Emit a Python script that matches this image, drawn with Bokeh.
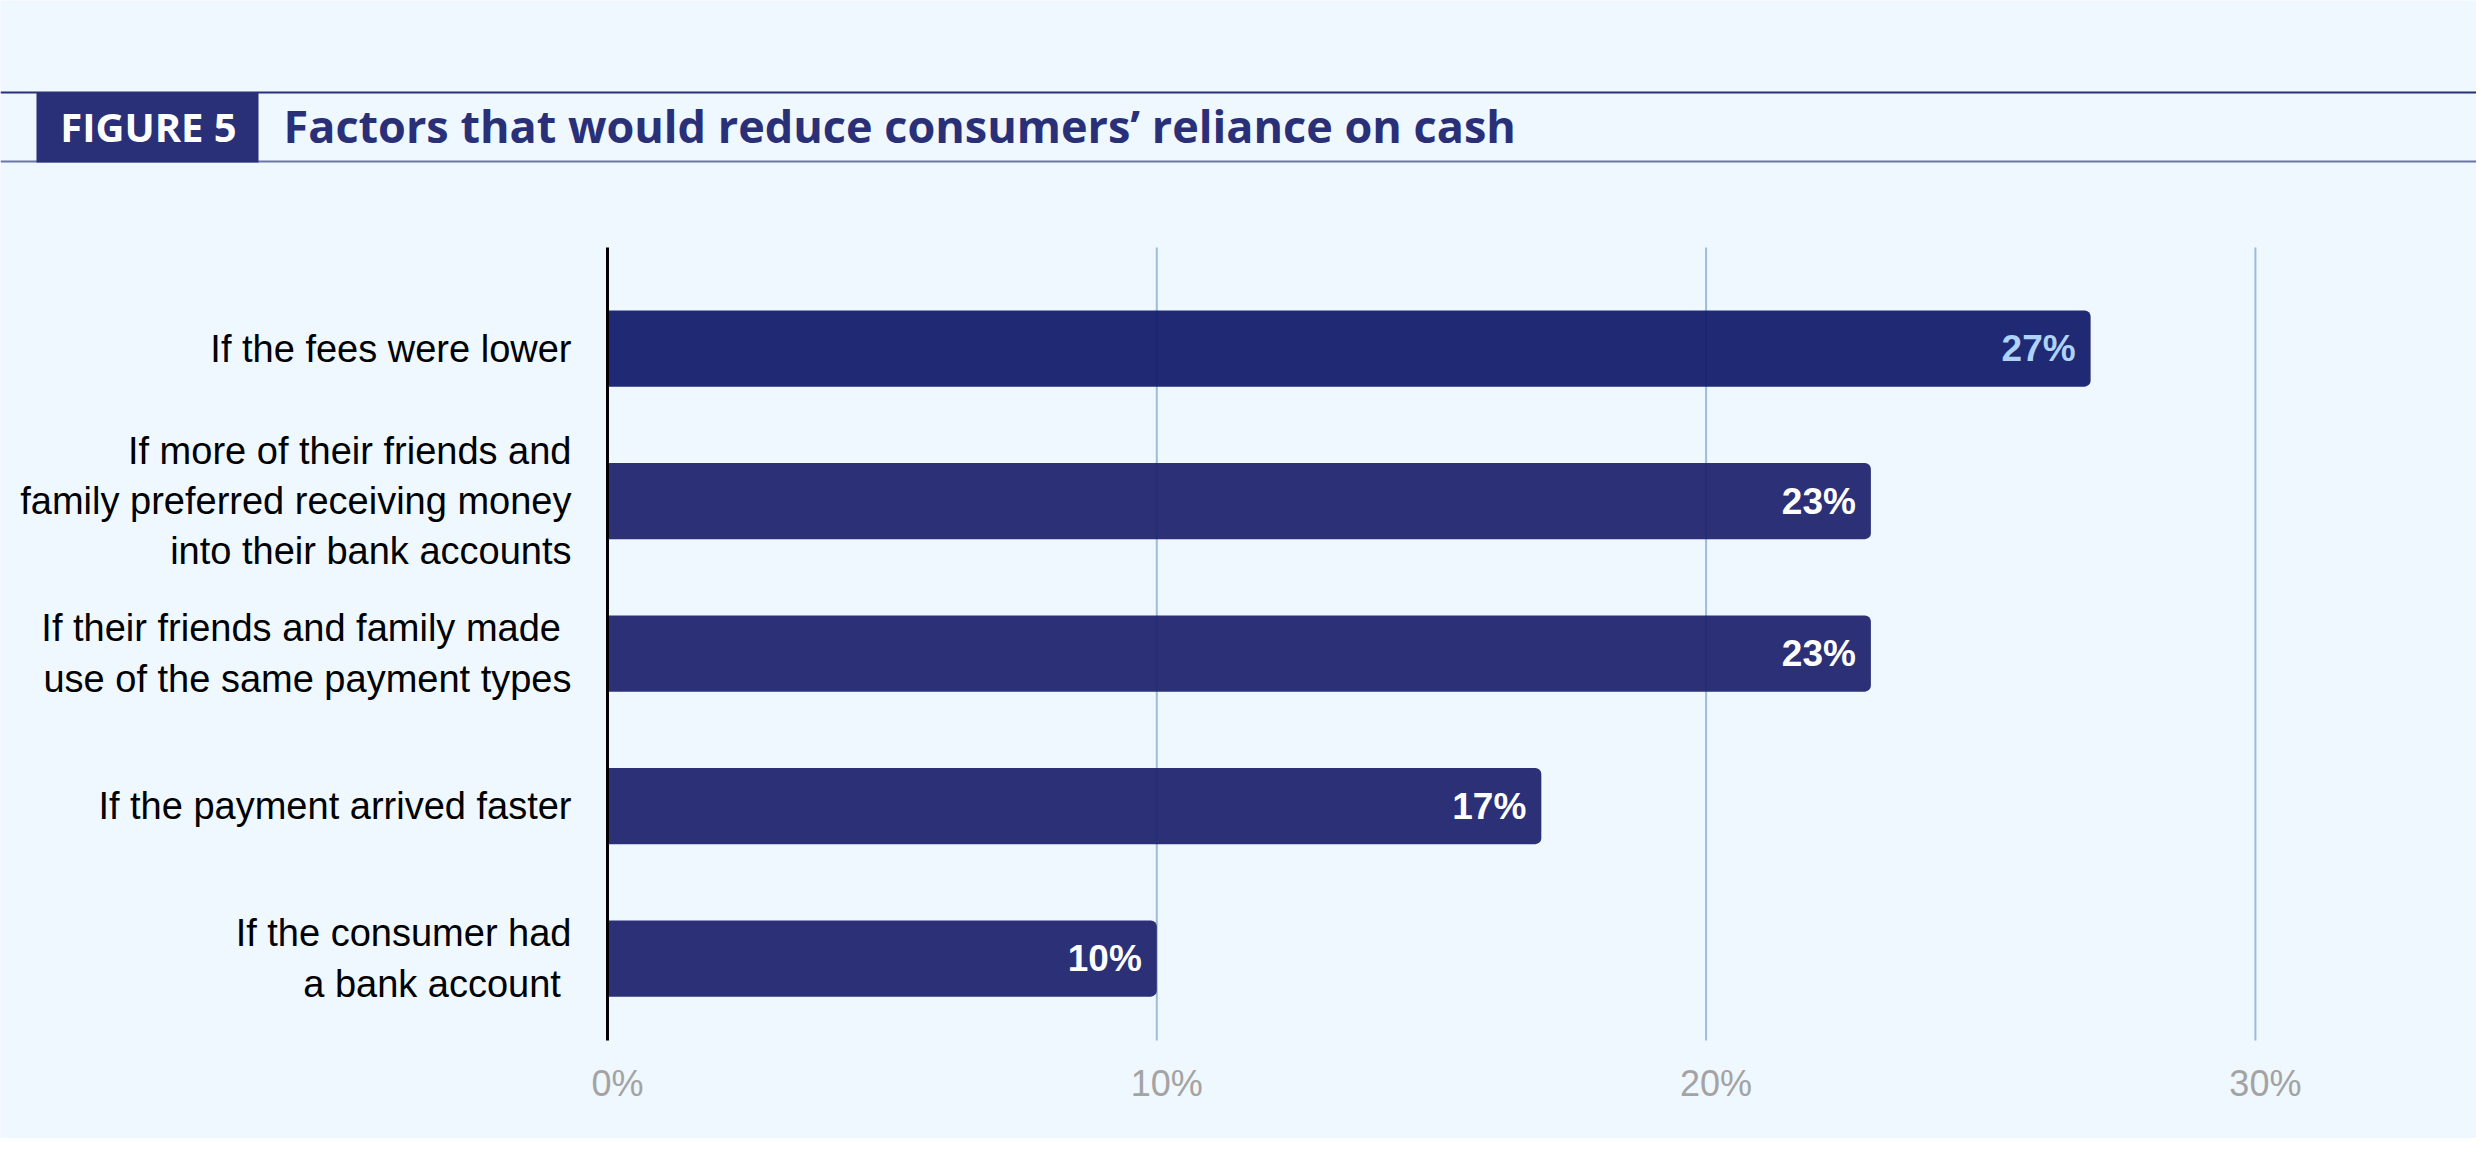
from bokeh.core.properties import value
from bokeh.embed import file_html
from bokeh.models import ColumnDataSource, Range1d
from bokeh.plotting import figure
from bokeh.resources import INLINE

BG = "#eff7ff"
NAVY = "#2a3077"
W, H = 2476, 1138

# data, top to bottom as in the chart
factors = [
    "If the fees were lower",
    "If more of their friends and\nfamily preferred receiving money\ninto their bank accounts",
    "If their friends and family made \nuse of the same payment types",
    "If the payment arrived faster",
    "If the consumer had\na bank account ",
]
shares = [27, 23, 23, 17, 10]
bar_colors = ["#141d6b", "#202570", "#202570", "#202570", "#202570"]
label_colors = ["#aed2f8", "white", "white", "white", "white"]
x_ticks = [0, 10, 20, 30]
x_tick_labels = ["0%", "10%", "20%", "30%"]

title_tag = "FIGURE 5"
title_text = "Factors that would reduce consumers\u2019 reliance on cash"

# page pixel -> data helpers (0% sits at x=607px, 54.93px per point,
# one category every 152.5px with the last one centred at y=958px)
def dx(px):
    return (px - 607) / 54.93


def dy(py):
    return (958 - py) / 152.5


y_lo, y_hi = -0.538, 4.662  # extent of the plotting area

ypos = list(range(len(factors) - 1, -1, -1))
src = ColumnDataSource(dict(y=ypos, share=shares, bar_color=bar_colors,
                            label_color=label_colors, factor=factors,
                            label=[f"{s}%" for s in shares]))

p = figure(width=W, height=H, x_range=Range1d(dx(0), dx(W)), y_range=Range1d(dy(H), dy(0)),
           x_axis_location=None, y_axis_location=None, min_border=0,
           output_backend="svg", toolbar_location=None)
p.background_fill_color = BG
p.border_fill_color = BG
p.outline_line_color = None
p.grid.visible = False

# header band
p.segment(x0=[dx(0)], y0=[dy(92)], x1=[dx(W)], y1=[dy(92)], line_color=NAVY, line_width=2)
p.segment(x0=[dx(0)], y0=[dy(161)], x1=[dx(W)], y1=[dy(161)], line_color="#6d74a8", line_width=2)
p.quad(left=[dx(36)], right=[dx(258)], top=[dy(92)], bottom=[dy(162)], fill_color=NAVY,
       line_color=None)
p.text(x=[dx(148)], y=[dy(126)], text=[title_tag], text_color="white", text_align="center",
       text_baseline="middle", text_font=value("Open Sans"), text_font_style="bold",
       text_font_size="40px")
p.text(x=[dx(283)], y=[dy(125)], text=[title_text], text_color=NAVY, text_align="left",
       text_baseline="middle", text_font=value("Open Sans"), text_font_style="bold",
       text_font_size="45px")

# grid lines and value axis line
p.segment(x0=x_ticks[1:], y0=y_lo, x1=x_ticks[1:], y1=y_hi, line_color="#9fbbd8", line_width=2)
p.text(x=x_ticks, y=y_lo, text=x_tick_labels, x_offset=10, y_offset=43, text_align="center",
       text_baseline="middle", text_color="#a3a3a3", text_font=value("Liberation Sans"),
       text_font_size="36px")

# bars
p.hbar(y="y", right="share", left=0, height=0.5, source=src, fill_color="bar_color",
       fill_alpha=0.95, line_color=None, border_radius=(0, 6, 6, 0))
p.text(x="share", y="y", text="label", source=src, x_offset=-15, text_align="right",
       text_baseline="middle", text_color="label_color", text_font=value("Liberation Sans"),
       text_font_style="bold", text_font_size="37px")
p.segment(x0=[0], y0=[y_lo], x1=[0], y1=[y_hi], line_color="black", line_width=3)

# category labels
p.text(x=0, y="y", text="factor", source=src, x_offset=-36, text_align="right",
       text_baseline="middle", text_color="black", text_font=value("Liberation Sans"),
       text_font_size="38px", text_line_height=1.2)

open("out.html", "w").write(file_html(p, INLINE))
